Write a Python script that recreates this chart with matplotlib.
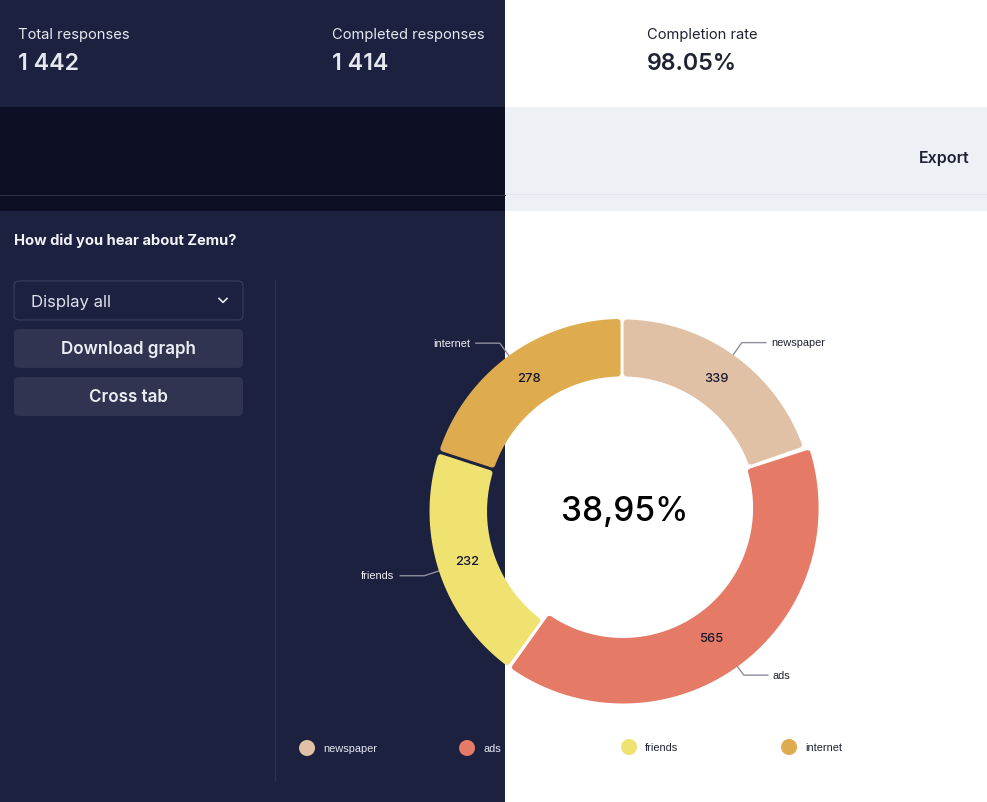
import numpy as np
import matplotlib
matplotlib.use("Agg")
import matplotlib.pyplot as plt
from matplotlib.patches import Rectangle, FancyBboxPatch, Polygon, Circle

# data
labels = ["newspaper", "ads", "friends", "internet"]
counts = [339, 565, 232, 278]
# drawn arc sizes do not follow the counts in the reference, so keep them apart
arc_shares = [19.64, 40.36, 20.0, 20.0]
colors = ["#e0c1a6", "#e57b67", "#efe270", "#dfab4f"]
center_text = "38,95%"

stat_names = ["Total responses", "Completed responses", "Completion rate"]
stat_values = ["1 442", "1 414", "98.05%"]

DARK = "#1c2140"
DARKER = "#0d1024"
LIGHT = "#edf0f5"
HEAD = "Inter"
px = 0.72  # font px to pt at dpi 100

fig = plt.figure(figsize=(9.871, 8.021), dpi=100)
ax = fig.add_axes([0, 0, 1, 1])
ax.set_xlim(0, 987)
ax.set_ylim(802, 0)
ax.axis("off")


def box(x, y, w, h, color, z=1):
    ax.add_patch(Rectangle((x, y), w, h, fc=color, ec="none", zorder=z))


def rbox(x, y, w, h, fc, ec="none"):
    ax.add_patch(FancyBboxPatch((x + 5, y + 5), w - 10, h - 10, boxstyle="round,pad=5,rounding_size=5",
                                fc=fc, ec=ec, lw=0.8, zorder=3))


# page background
box(0, 0, 505, 802, DARK)
box(505, 107, 482, 104, LIGHT)
box(0, 107, 505, 104, DARKER)
ax.plot([0, 505], [195, 195], color="#2b2e44", lw=0.8, zorder=2)
ax.plot([505, 987], [194.5, 194.5], color="#e3e6ec", lw=0.8, zorder=2)

# stats header
stat_x = [18, 332, 647]
stat_colors = ["#e6e8f0", "#e6e8f0", "#1f2233"]
for x, name, val, c in zip(stat_x, stat_names, stat_values, stat_colors):
    ax.text(x, 35, name, color=c, fontsize=14.7 * px, family=HEAD, va="center", ha="left")
    ax.text(x, 63.5, val, color=c, fontsize=23.2 * px, family=HEAD, weight="semibold", va="center", ha="left")
ax.text(969, 158.5, "Export", color="#1f2233", fontsize=16 * px, family=HEAD, weight="semibold", va="center", ha="right")

# left controls
ax.text(14, 241, "How did you hear about Zemu?", color="#f2f3f7", fontsize=14.7 * px, family=HEAD,
        weight="bold", va="center")
rbox(14, 281, 229, 39, DARK, "#3a3e5e")
ax.text(31, 302, "Display all", color="#dfe1ea", fontsize=16.7 * px, family=HEAD, va="center", zorder=4)
ax.plot([219, 223, 227], [298.5, 302.5, 298.5], color="#e6e8f0", lw=1.2, zorder=4)
rbox(14, 329, 229, 39, "#303450")
ax.text(128.5, 349.5, "Download graph", color="#eceef4", fontsize=17 * px, family=HEAD, weight="semibold",
        va="center", ha="center", zorder=4)
rbox(14, 377, 229, 39, "#303450")
ax.text(128.5, 397.5, "Cross tab", color="#eceef4", fontsize=17 * px, family=HEAD, weight="semibold",
        va="center", ha="center", zorder=4)
ax.plot([275, 275], [280, 780], color="#2c3050", lw=1, zorder=2)

# donut, angles are clockwise from 12 o'clock
cx, cy = 622, 511.5
r_out = [192, 195.5, 192.5, 192.5]
r_in = [135, 130, 135, 135]
# ads slice is the highlighted one, it sits a bit off the centre
shift_x = [0, 1, 0, 0]
shift_y = [0, -3.5, 0, 0]
trim_start = [0, 1.4, 0, 0]
trim_end = [0, 0.5, 0, 0]
gap = 3.0
stroke = 6.0
bounds = np.cumsum([0] + arc_shares) / 100 * 360


def polar(r, deg):
    a = np.radians(deg)
    return cx + r * np.sin(a), cy - r * np.cos(a)


for i, c in enumerate(colors):
    ro = r_out[i] - stroke / 2
    ri = r_in[i] + stroke / 2
    off = (gap + stroke) / 2
    a1 = bounds[i] + trim_start[i] + np.degrees(np.arcsin(off / ro))
    a2 = bounds[i + 1] - trim_end[i] - np.degrees(np.arcsin(off / ro))
    b1 = bounds[i] + trim_start[i] + np.degrees(np.arcsin(off / ri))
    b2 = bounds[i + 1] - trim_end[i] - np.degrees(np.arcsin(off / ri))
    xo, yo = polar(ro, np.linspace(a1, a2, 120))
    xi, yi = polar(ri, np.linspace(b2, b1, 120))
    pts = np.column_stack([np.r_[xo, xi] + shift_x[i], np.r_[yo, yi] + shift_y[i]])
    ax.add_patch(Polygon(pts, closed=True, fc=c, ec=c, lw=stroke * px, joinstyle="round", zorder=5))

# value labels and leaders
mids = (bounds[:-1] + bounds[1:]) / 2
label_r = [163, 156, 163, 162]
label_turn = [0, 1.65, 0, 1]
elbow_r = [207, 204, 208, 208]
for i, name in enumerate(labels):
    tx, ty = polar(label_r[i], mids[i] + label_turn[i])
    ax.text(tx, ty, str(counts[i]), color="#14172e", fontsize=13 * px, family=HEAD, weight="medium",
            ha="center", va="center", zorder=7)
    x0, y0 = polar(r_out[i] - 4, mids[i])
    x1, y1 = polar(elbow_r[i], mids[i])
    right = mids[i] < 180
    x2 = x1 + (24 if right else -24)
    ax.plot([x0, x1, x2], [y0, y1, y1], color="#8d8f9c", lw=1, zorder=4)
    on_dark = not right
    ax.text(x2 + (5 if right else -6), y1 + 0.5, name, color="#f0f1f5" if on_dark else "#1f2233",
            fontsize=11 * px, family="Liberation Sans", ha="left" if right else "right", va="center", zorder=7)

ax.text(624.5, 512, center_text, color="black", fontsize=33.5 * px, family=HEAD, weight="medium",
        ha="center", va="center", zorder=7)

# legend
leg_x = [307, 467, 629, 789]
leg_y = [748, 748, 747, 747]
leg_text = ["#e6e8f0", "#e6e8f0", "#1f2233", "#1f2233"]
for x, y, name, c, tc in zip(leg_x, leg_y, labels, colors, leg_text):
    ax.add_patch(Circle((x, y), 8, fc=c, ec="none", zorder=5))
    ax.text(x + 16, y + 0.5, name, color=tc, fontsize=11 * px, family="Liberation Sans", va="center", zorder=7)

fig.savefig("out.png", dpi=100)
